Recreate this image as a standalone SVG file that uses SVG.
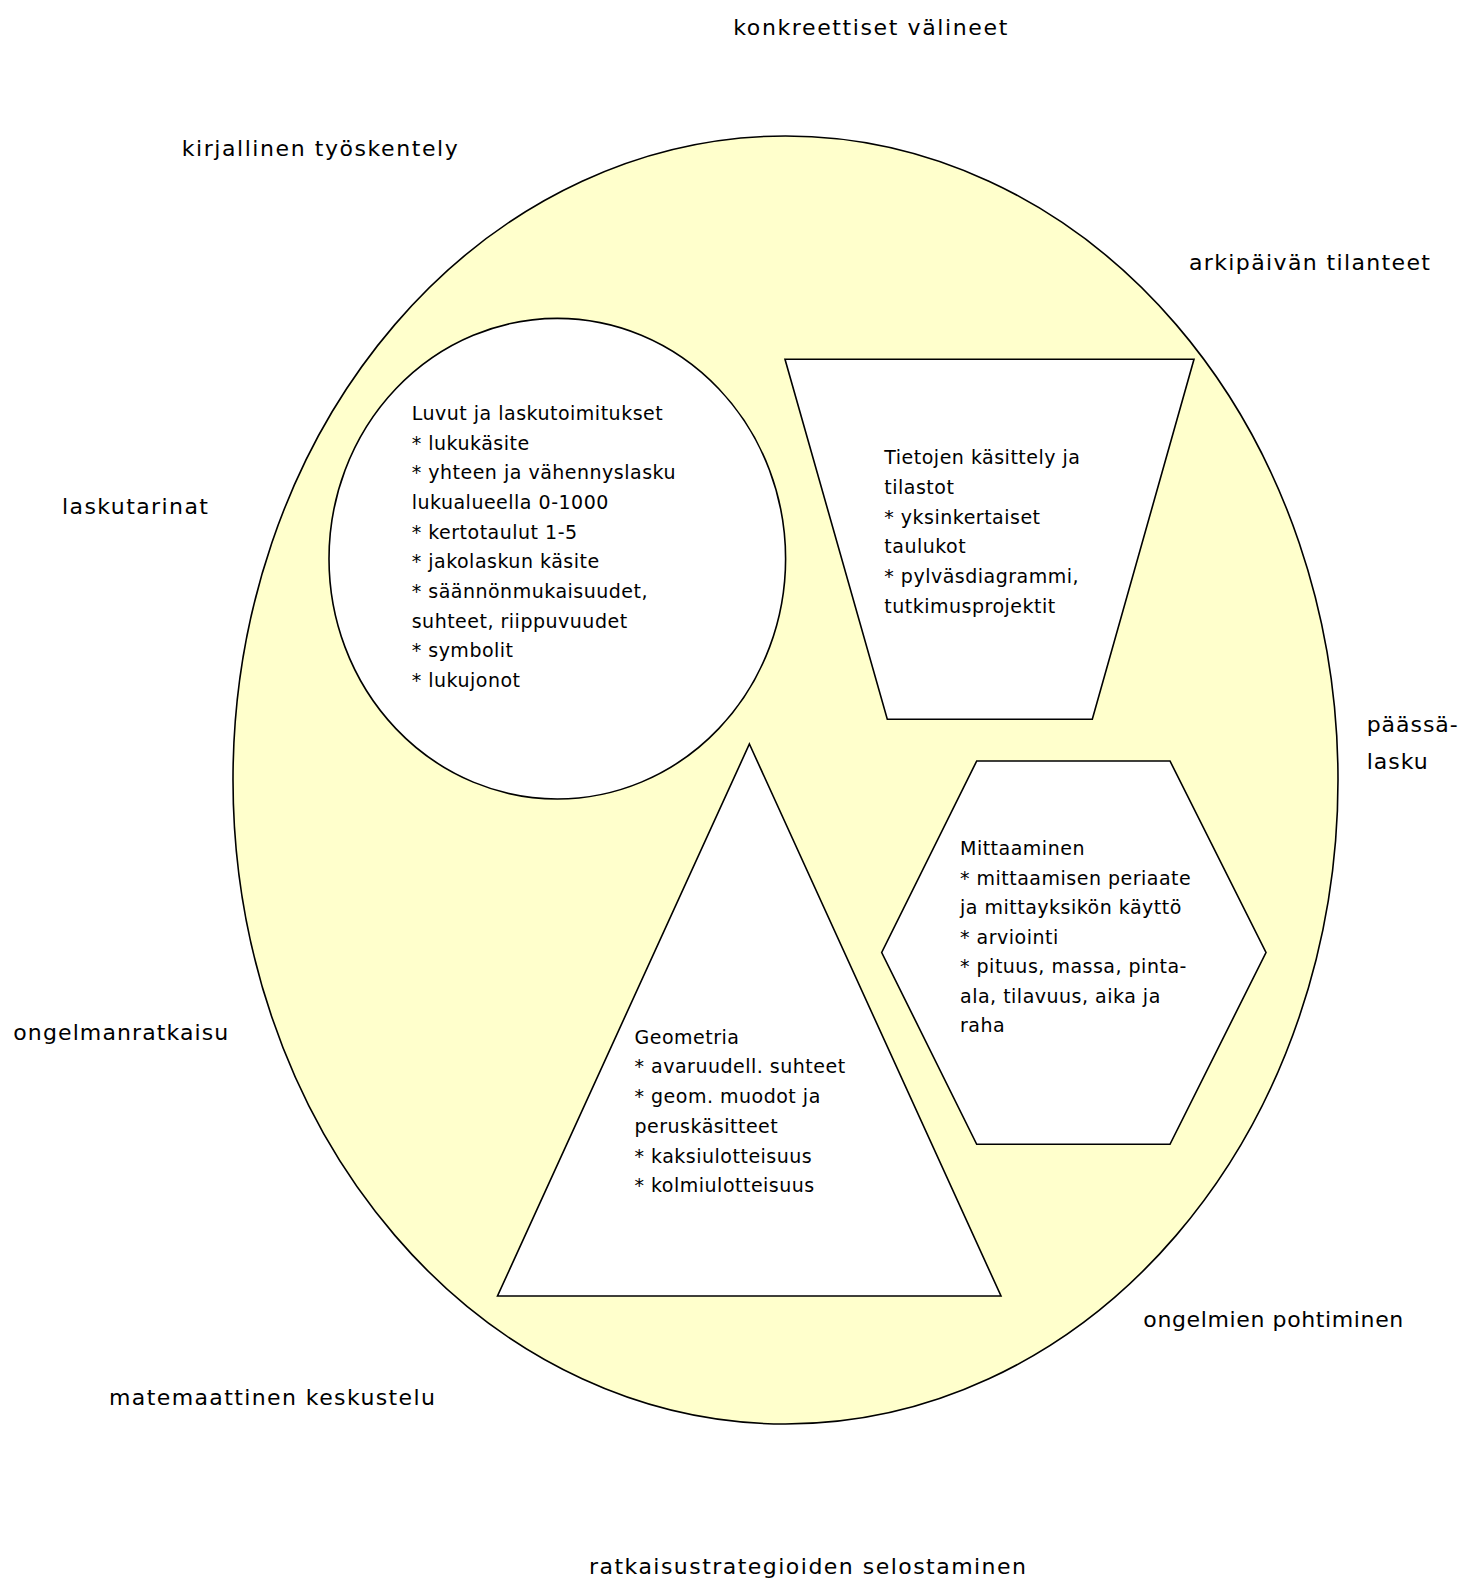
<svg xmlns="http://www.w3.org/2000/svg" width="1461" height="1581" viewBox="0 0 1461 1581">
<style>
.shape{stroke:#000;stroke-width:1.6;stroke-linejoin:miter}
.outer{fill:#FFFFCC}
.inner{fill:#FFFFFF}
.lbl{font-family:"DejaVu Sans","Verdana",sans-serif;font-size:22px;fill:#000}
.txt{font-family:"DejaVu Sans","Verdana",sans-serif;font-size:19px;fill:#000;letter-spacing:0.5px}
</style>
<rect x="0" y="0" width="1461" height="1581" fill="#FFFFFF"/>
<g id="main-ellipse">
<ellipse class="shape outer" cx="785.5" cy="780" rx="552.5" ry="644"/>
</g>
<g id="node-luvut">
<ellipse class="shape inner" cx="557.3" cy="558.7" rx="228.3" ry="240.3"/>
<text class="txt" x="411.7" y="420">Luvut ja laskutoimitukset</text>
<text class="txt" x="411.7" y="449.7">* lukukäsite</text>
<text class="txt" x="411.7" y="479.3">* yhteen ja vähennyslasku</text>
<text class="txt" x="411.7" y="509">lukualueella 0-1000</text>
<text class="txt" x="411.7" y="538.6">* kertotaulut 1-5</text>
<text class="txt" x="411.7" y="568.3">* jakolaskun käsite</text>
<text class="txt" x="411.7" y="597.9">* säännönmukaisuudet,</text>
<text class="txt" x="411.7" y="627.6">suhteet, riippuvuudet</text>
<text class="txt" x="411.7" y="657.2">* symbolit</text>
<text class="txt" x="411.7" y="686.9">* lukujonot</text>
</g>
<g id="node-tietojen">
<polygon class="shape inner" points="785,359.3 1194,359.3 1092.3,719.3 887.3,719.3"/>
<text class="txt" x="884.3" y="464.3">Tietojen käsittely ja</text>
<text class="txt" x="884.3" y="494">tilastot</text>
<text class="txt" x="884.3" y="523.6">* yksinkertaiset</text>
<text class="txt" x="884.3" y="553.3">taulukot</text>
<text class="txt" x="884.3" y="582.9">* pylväsdiagrammi,</text>
<text class="txt" x="884.3" y="612.6">tutkimusprojektit</text>
</g>
<g id="node-mittaaminen">
<polygon class="shape inner" points="976.7,761 1170,761 1266,952.5 1170,1144.3 976.7,1144.3 881.7,952.5"/>
<text class="txt" x="960" y="855">Mittaaminen</text>
<text class="txt" x="960" y="884.5">* mittaamisen periaate</text>
<text class="txt" x="960" y="914">ja mittayksikön käyttö</text>
<text class="txt" x="960" y="943.5">* arviointi</text>
<text class="txt" x="960" y="973">* pituus, massa, pinta-</text>
<text class="txt" x="960" y="1002.5">ala, tilavuus, aika ja</text>
<text class="txt" x="960" y="1032">raha</text>
</g>
<g id="node-geometria">
<polygon class="shape inner" points="749.4,744 1001,1296 497.5,1296"/>
<text class="txt" x="634.5" y="1043.7">Geometria</text>
<text class="txt" x="634.5" y="1073.4">* avaruudell. suhteet</text>
<text class="txt" x="634.5" y="1103">* geom. muodot ja</text>
<text class="txt" x="634.5" y="1132.6">peruskäsitteet</text>
<text class="txt" x="634.5" y="1162.5">* kaksiulotteisuus</text>
<text class="txt" x="634.5" y="1192.3">* kolmiulotteisuus</text>
</g>
<g id="labels">
<text class="lbl" x="733.3" y="34.8" textLength="274" lengthAdjust="spacing">konkreettiset välineet</text>
<text class="lbl" x="181.7" y="156.2" textLength="276" lengthAdjust="spacing">kirjallinen työskentely</text>
<text class="lbl" x="1189" y="269.8" textLength="241" lengthAdjust="spacing">arkipäivän tilanteet</text>
<text class="lbl" x="62" y="513.8" textLength="146" lengthAdjust="spacing">laskutarinat</text>
<text class="lbl" x="1366.7" y="732" textLength="91" lengthAdjust="spacing">päässä-</text>
<text class="lbl" x="1366.7" y="768.6" textLength="61" lengthAdjust="spacing">lasku</text>
<text class="lbl" x="13.3" y="1040.3" textLength="215" lengthAdjust="spacing">ongelmanratkaisu</text>
<text class="lbl" x="1143.3" y="1327" textLength="260" lengthAdjust="spacing">ongelmien pohtiminen</text>
<text class="lbl" x="109" y="1405" textLength="326" lengthAdjust="spacing">matemaattinen keskustelu</text>
<text class="lbl" x="589" y="1573.5" textLength="437" lengthAdjust="spacing">ratkaisustrategioiden selostaminen</text>
</g>
</svg>
